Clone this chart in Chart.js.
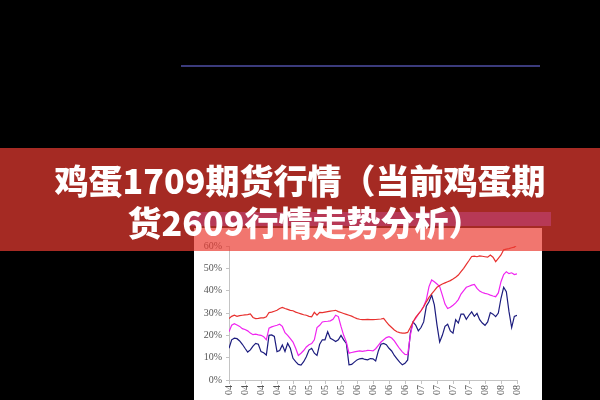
<!DOCTYPE html>
<html>
<head>
<meta charset="utf-8">
<script src="https://cdn.jsdelivr.net/npm/chart.js@4"></script>
<style>
  html, body { margin: 0; padding: 0; background: #000; width: 600px; height: 400px; overflow: hidden; }
  .topLine { position: absolute; left: 181px; top: 65px; width: 359px; height: 2px; background: #3b3b7c; }
  .strip { position: absolute; left: 190px; top: 212px; width: 361px; height: 14px; background: rgb(60,50,170); }
  .chartBox { position: absolute; left: 194px; top: 228px; width: 348px; height: 172px; background: #fff; }
  .banner {
    position: absolute; left: 0; top: 148px; width: 600px; height: 103px;
    background: rgba(235,60,50,0.7);
    color: #fff; text-align: center;
    font-family: "Noto Sans CJK SC", sans-serif; font-weight: 900; font-size: 34px;
    line-height: 42px; padding-top: 11px; box-sizing: border-box;
  }
  .banner span { position: relative; left: 5px; }
</style>
</head>
<body>
<div class="topLine"></div>
<div class="strip"></div>
<div class="chartBox"><canvas id="eggChart" width="348" height="172"></canvas></div>
<div class="banner">鸡蛋1709期货行情（当前鸡蛋期<br><span>货2609行情走势分析）</span></div>

<script>
// quarter tick labels, 2004 Q1 .. 2008 Q3
const quarterLabels = ['04', '04', '04', '04', '05', '05', '05', '05', '06', '06', '06', '06', '07', '07', '07', '07', '08', '08', '08'];
const pointsPerQuarter = 6;

// values in % (6 readings per quarter)
const redSeries = [
  27.5, 28.5, 29, 28.5, 28.8, 29, 29.2, 29.3, 29.6, 28, 27.5, 27.6,
  27.8, 27.8, 28.3, 30.2, 30.4, 30.8, 31.2, 32, 32.5, 32, 31.6, 31.2,
  31, 30.4, 30, 29.6, 29.2, 29, 28.5, 28.3, 30.3, 29, 30.3, 30.2,
  30.4, 30.6, 30.8, 31, 31.2, 30.6, 30.2, 29.8, 29.4, 29, 28.6, 28,
  27.5, 27.2, 27, 27, 27.1, 27, 27, 27.1, 27.2, 27.3, 27.6, 26,
  24.6, 23.5, 22.4, 21.6, 21.2, 21, 21, 21.3, 23.5, 26, 28, 29.5,
  31, 32.8, 35, 37, 38.6, 40, 41.5, 42.3, 43, 43.5, 44, 44.5,
  45.2, 46, 47, 48.5, 50, 51.8, 53.5, 55.3, 55.5, 55.2, 55.6, 55.4,
  55.2, 55, 56, 55, 53, 54.5, 56, 58.3, 58.6, 58.8, 59.2, 59.5,
  60.5
];
const pinkSeries = [
  21.6, 24.5, 25.2, 24.6, 24, 23, 22.6, 22, 21, 20.3, 20.5, 20.2,
  20, 19.4, 18, 23.2, 23.8, 24.2, 24.5, 25, 24, 21.2, 20, 18.5,
  17, 14.2, 11, 12, 13.2, 14.8, 15.8, 16.3, 18, 23.5, 24.5, 26,
  26.2, 26.3, 26.5, 27.2, 29, 28.4, 24, 20, 17, 12, 12.3, 12.6,
  12.8, 13, 12.8, 13, 13.3, 13.2, 13, 14, 15.5, 17, 18, 19,
  19.4, 18.8, 17.5, 15.7, 14, 12.6, 11.5, 11.4, 20, 26, 27.6, 29.5,
  31, 33, 36, 41.8, 44.8, 44, 43, 41.8, 38, 34, 32, 32.6,
  33.5, 34.5, 36, 38.5, 40, 41.5, 42, 42.5, 42.8, 41, 39.8, 39.2,
  38.8, 38.5, 38, 37.6, 37.3, 39, 44, 47.2, 48.5, 47.6, 48, 47.2,
  47.5
];
const navySeries = [
  14.2, 18, 18.7, 18.5, 17.5, 16, 14.2, 12.5, 13.5, 15.2, 16.4, 16,
  12.7, 12.2, 11.2, 20, 20.2, 19.5, 12.7, 13.2, 15.7, 12.8, 16.4, 14.2,
  9.7, 8.2, 7, 6.7, 8.2, 10.4, 13.4, 14.2, 12, 11, 16, 18,
  18, 21.6, 18.7, 18, 17.2, 18, 20, 18, 16.4, 6.8, 7, 8,
  9, 9.5, 9.7, 9.2, 9, 9.6, 9.5, 8.5, 13, 16, 16.4, 15.8,
  14.2, 13, 11, 9.5, 8, 6.8, 7.5, 9, 21, 26, 24.6, 22,
  23.5, 26, 33, 35, 38, 33.6, 24.6, 17, 20, 24, 25, 22,
  21, 27, 25.5, 29.5, 29.5, 27.2, 29, 30.5, 28.5, 29.8, 27, 25.5,
  24.5, 26, 30.2, 29.5, 28.4, 30, 36.6, 41.5, 39.5, 30.6, 23.5, 28.5,
  29
];

function toPoints(values) {
  return values.map((v, i) => ({ x: i / pointsPerQuarter, y: v }));
}

const axisFont = { family: 'Liberation Serif', size: 10 };

new Chart(document.getElementById('eggChart').getContext('2d'), {
  type: 'line',
  data: {
    datasets: [
      { data: toPoints(redSeries), borderColor: '#e8302e' },
      { data: toPoints(pinkSeries), borderColor: '#f024f0' },
      { data: toPoints(navySeries), borderColor: '#1c1c7e' }
    ]
  },
  options: {
    responsive: false,
    devicePixelRatio: 1,
    animation: false,
    layout: { padding: { top: 18, right: 25, left: 0, bottom: 0 } },
    elements: {
      point: { radius: 0 },
      line: { borderWidth: 1.2, tension: 0 }
    },
    plugins: { legend: { display: false }, tooltip: { enabled: false } },
    scales: {
      x: {
        type: 'linear',
        min: 0,
        max: 18,
        afterFit: s => { s.height = 20; },
        grid: { drawOnChartArea: false, tickLength: 4, color: '#c4c4c4' },
        border: { color: '#c4c4c4' },
        ticks: {
          stepSize: 1,
          autoSkip: false,
          minRotation: 90,
          maxRotation: 90,
          padding: 1,
          font: axisFont,
          color: '#555',
          callback: v => quarterLabels[v]
        }
      },
      y: {
        min: 0,
        max: 60,
        afterFit: s => { s.width = 35; },
        grid: { drawOnChartArea: false, tickLength: 3, color: '#c4c4c4' },
        border: { color: '#c4c4c4' },
        ticks: {
          stepSize: 10,
          padding: 4,
          font: axisFont,
          color: '#555',
          callback: v => v + '%'
        }
      }
    }
  }
});
</script>
</body>
</html>
